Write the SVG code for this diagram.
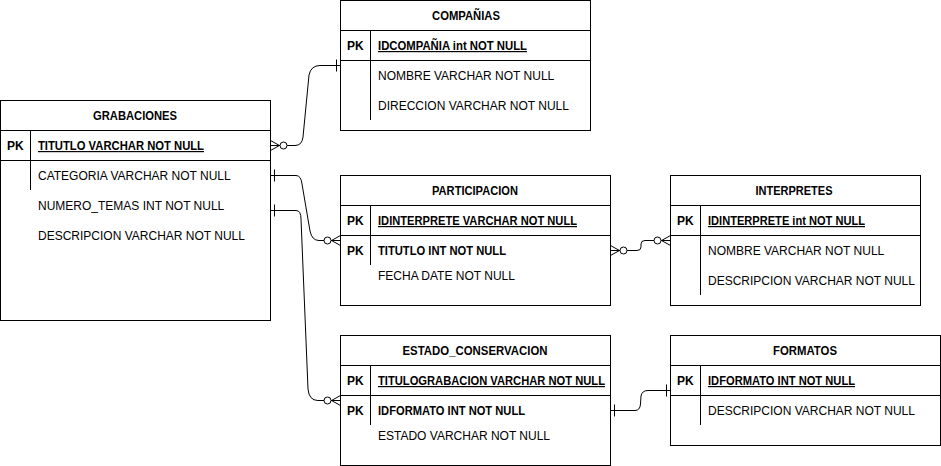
<svg xmlns="http://www.w3.org/2000/svg" width="941" height="466" viewBox="0 0 941 466">
<style>
.box{fill:#fff;stroke:#000;stroke-width:1}
.ln{stroke:#000;stroke-width:1;fill:none}
text{font-family:"Liberation Sans",Arial,sans-serif;font-size:12px;fill:#000}
.h{font-weight:bold;text-anchor:middle}
.b{font-weight:bold}
.u{font-weight:bold;text-decoration:underline}
.c{stroke:#000;stroke-width:1;fill:none}
</style>
<defs>
<marker id="zm" markerUnits="userSpaceOnUse" viewBox="-20 -8 22 16" refX="0" refY="0" markerWidth="22" markerHeight="16" orient="auto-start-reverse">
<path d="M-9,0 L0,-5 M-9,0 L0,0 M-9,0 L0,5" stroke="#000" stroke-width="1" fill="none"/>
<circle cx="-13" cy="0" r="3.5" fill="#fff" stroke="#000" stroke-width="1"/>
</marker>
<marker id="one" markerUnits="userSpaceOnUse" viewBox="-10 -8 12 16" refX="0" refY="0" markerWidth="12" markerHeight="16" orient="auto-start-reverse">
<path d="M-4,-6 L-4,6" stroke="#000" stroke-width="1"/>
</marker>
</defs>
<rect width="941" height="466" fill="#fff"/>

<g id="grabaciones">
<rect class="box" x="0.5" y="100.5" width="270" height="220"/>
<path class="ln" d="M0.5,130.5 H270.5 M0.5,160.5 H270.5 M30.5,130.5 V190"/>
<text class="h" x="135" y="120" textLength="84" lengthAdjust="spacingAndGlyphs">GRABACIONES</text>
<text class="b" x="7" y="150">PK</text>
<text class="u" x="38" y="150" textLength="166" lengthAdjust="spacingAndGlyphs">TITUTLO VARCHAR NOT NULL</text>
<text x="38" y="180">CATEGORIA VARCHAR NOT NULL</text>
<text x="38" y="210">NUMERO_TEMAS INT NOT NULL</text>
<text x="38" y="240">DESCRIPCION VARCHAR NOT NULL</text>
</g>

<g id="companias">
<rect class="box" x="340.5" y="0.5" width="250" height="130"/>
<path class="ln" d="M340.5,30.5 H590.5 M340.5,60.5 H590.5 M370.5,30.5 V120"/>
<text class="h" x="466" y="20" textLength="68" lengthAdjust="spacingAndGlyphs">COMPAÑIAS</text>
<text class="b" x="347" y="50">PK</text>
<text class="u" x="378" y="50" textLength="149" lengthAdjust="spacingAndGlyphs">IDCOMPAÑIA int NOT NULL</text>
<text x="378" y="80">NOMBRE VARCHAR NOT NULL</text>
<text x="378" y="110">DIRECCION VARCHAR NOT NULL</text>
</g>

<g id="participacion">
<rect class="box" x="340.5" y="175.5" width="270" height="130"/>
<path class="ln" d="M340.5,205.5 H610.5 M340.5,235.5 H610.5 M370.5,205.5 V265"/>
<text class="h" x="475" y="195" textLength="86" lengthAdjust="spacingAndGlyphs">PARTICIPACION</text>
<text class="b" x="347" y="225">PK</text>
<text class="u" x="378" y="225" textLength="199" lengthAdjust="spacingAndGlyphs">IDINTERPRETE VARCHAR NOT NULL</text>
<text class="b" x="347" y="255">PK</text>
<text class="b" x="378" y="255" textLength="128" lengthAdjust="spacingAndGlyphs">TITUTLO INT NOT NULL</text>
<text x="378" y="280">FECHA DATE NOT NULL</text>
</g>

<g id="interpretes">
<rect class="box" x="670.5" y="175.5" width="250" height="130"/>
<path class="ln" d="M670.5,205.5 H920.5 M670.5,235.5 H920.5 M700.5,205.5 V295"/>
<text class="h" x="794" y="195" textLength="77" lengthAdjust="spacingAndGlyphs">INTERPRETES</text>
<text class="b" x="677" y="225">PK</text>
<text class="u" x="708" y="225" textLength="157" lengthAdjust="spacingAndGlyphs">IDINTERPRETE int NOT NULL</text>
<text x="708" y="255">NOMBRE VARCHAR NOT NULL</text>
<text x="708" y="285">DESCRIPCION VARCHAR NOT NULL</text>
</g>

<g id="estado_conservacion">
<rect class="box" x="340.5" y="335.5" width="270" height="130"/>
<path class="ln" d="M340.5,365.5 H610.5 M340.5,395.5 H610.5 M370.5,365.5 V425"/>
<text class="h" x="475" y="355" textLength="145" lengthAdjust="spacingAndGlyphs">ESTADO_CONSERVACION</text>
<text class="b" x="347" y="385">PK</text>
<text class="u" x="378" y="385" textLength="227" lengthAdjust="spacingAndGlyphs">TITULOGRABACION VARCHAR NOT NULL</text>
<text class="b" x="347" y="415">PK</text>
<text class="b" x="378" y="415" textLength="147" lengthAdjust="spacingAndGlyphs">IDFORMATO INT NOT NULL</text>
<text x="378" y="440">ESTADO VARCHAR NOT NULL</text>
</g>

<g id="formatos">
<rect class="box" x="670.5" y="335.5" width="270" height="110"/>
<path class="ln" d="M670.5,365.5 H940.5 M670.5,395.5 H940.5 M700.5,365.5 V425"/>
<text class="h" x="805" y="355" textLength="64" lengthAdjust="spacingAndGlyphs">FORMATOS</text>
<text class="b" x="677" y="385">PK</text>
<text class="u" x="708" y="385" textLength="147" lengthAdjust="spacingAndGlyphs">IDFORMATO INT NOT NULL</text>
<text x="708" y="415">DESCRIPCION VARCHAR NOT NULL</text>
</g>

<g id="connectors">
<path class="c" d="M270.5,145.5 H295 Q302,145.5 303,137 L309,75 Q311,65.5 320,65.5 H340.5" marker-start="url(#zm)" marker-end="url(#one)"/>
<path class="c" d="M270.5,175.5 H296 Q301,175.5 302,184 L310,231 Q312,240.5 319,240.5 H340.5" marker-start="url(#one)" marker-end="url(#zm)"/>
<path class="c" d="M270.5,210.5 H296 Q301,210.5 301,219 L308,389 Q309,400.5 318,400.5 H340.5" marker-start="url(#one)" marker-end="url(#zm)"/>
<path class="c" d="M610.5,250.5 H637 Q641,250.5 641,247 L641,244 Q641,240.5 645,240.5 H670.5" marker-start="url(#zm)" marker-end="url(#zm)"/>
<path class="c" d="M610.5,410.5 H635 Q640,410.5 640.5,404 L641,396 Q642,390.5 648,390.5 H670.5" marker-start="url(#one)" marker-end="url(#one)"/>
</g>
</svg>
